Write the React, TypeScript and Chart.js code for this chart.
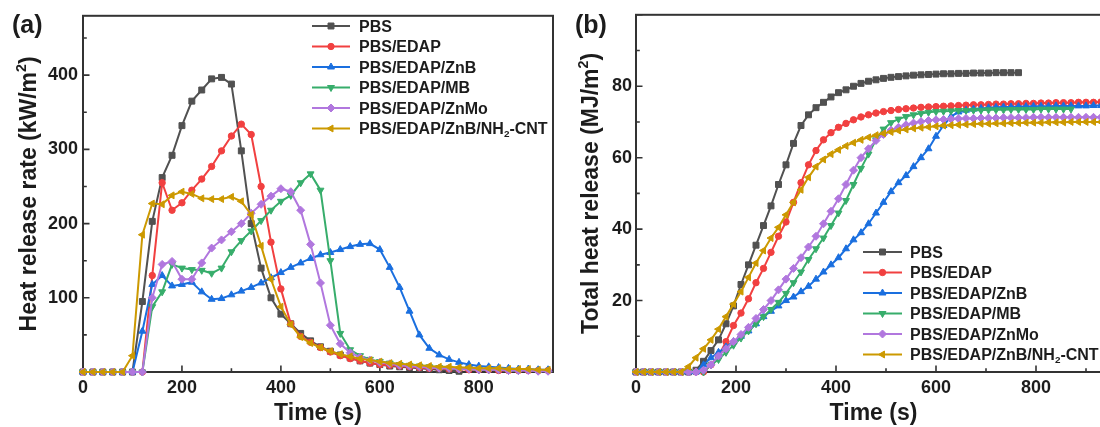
import React, { useEffect, useRef } from 'react';
import { Chart, registerables } from 'chart.js';
import { drawPoint } from 'chart.js/helpers';

Chart.register(...registerables);

const FONT = '"Liberation Sans", Arial, Helvetica, sans-serif';
const TEXT_COLOR = '#1c1c1c';
const AXIS_COLOR = '#333333';

// ---------- data ----------
const SERIES_LABELS = [
  'PBS',
  'PBS/EDAP',
  'PBS/EDAP/ZnB',
  'PBS/EDAP/MB',
  'PBS/EDAP/ZnMo',
  'PBS/EDAP/ZnB/NH₂-CNT',
];

// (a) heat release rate, kW/m², sampled every 20 s
const HRR_TIME = [0, 20, 40, 60, 80, 100, 120, 140, 160, 180, 200, 220, 240, 260, 280, 300, 320, 340, 360, 380, 400, 420, 440, 460, 480, 500, 520, 540, 560, 580, 600, 620, 640, 660, 680, 700, 720, 740, 760, 780, 800, 820, 840, 860, 880, 900, 920, 940];
const HRR_PBS = [0, 0, 0, 0, 0, 0, 95, 203, 262, 292, 332, 365, 380, 395, 397, 388, 298, 200, 140, 100, 78, 65, 52, 42, 34, 28, 23, 19, 15, 12, 10, 8, 7, 6, 5, 4, 3, 2, 1];
const HRR_EDAP = [0, 0, 0, 0, 0, 0, 0, 130, 255, 218, 228, 245, 260, 277, 298, 318, 334, 320, 250, 175, 112, 65, 48, 40, 33, 27, 22, 18, 15, 12, 10, 9, 8, 7, 6, 5, 5, 4, 4, 3, 3, 3, 2, 2, 2, 2, 2, 2];
const HRR_ZNB = [0, 0, 0, 0, 0, 0, 55, 118, 130, 116, 118, 121, 108, 98, 99, 104, 109, 114, 120, 127, 134, 141, 147, 153, 158, 161, 165, 169, 172, 173, 165, 141, 114, 82, 50, 32, 23, 17, 13, 10, 8, 7, 6, 5, 4, 4, 3, 3];
const HRR_MB = [0, 0, 0, 0, 0, 0, 0, 88, 108, 145, 140, 138, 137, 133, 140, 162, 177, 190, 204, 218, 230, 238, 255, 267, 245, 150, 52, 30, 22, 17, 14, 12, 10, 9, 8, 7, 6, 5, 4, 4, 3, 3, 3, 2, 2];
const HRR_ZNMO = [0, 0, 0, 0, 0, 0, 0, 100, 145, 149, 125, 125, 147, 167, 178, 189, 200, 214, 226, 237, 247, 243, 218, 172, 120, 63, 38, 26, 20, 16, 13, 11, 9, 8, 7, 6, 5, 5, 4, 4, 3, 3, 3, 2, 2, 2, 1, 1];
const HRR_CNT = [0, 0, 0, 0, 0, 22, 185, 227, 226, 238, 243, 240, 234, 233, 233, 236, 230, 212, 170, 125, 88, 64, 47, 39, 33, 28, 24, 21, 18, 16, 14, 12, 11, 10, 9, 8, 7, 7, 6, 6, 5, 5, 5, 4, 4, 4, 3, 3];

// (b) total heat release, MJ/m², sampled every 15 s
const THR_TIME = [0, 15, 30, 45, 60, 75, 90, 105, 120, 135, 150, 165, 180, 195, 210, 225, 240, 255, 270, 285, 300, 315, 330, 345, 360, 375, 390, 405, 420, 435, 450, 465, 480, 495, 510, 525, 540, 555, 570, 585, 600, 615, 630, 645, 660, 675, 690, 705, 720, 735, 750, 765, 780, 795, 810, 825, 840, 855, 870, 885, 900, 915, 930, 945];
const THR_PBS = [0, 0, 0, 0, 0, 0, 0, 0, 0.5, 3, 6, 9, 13.5, 18.5, 24.5, 30, 35.5, 41, 46.5, 52.5, 58, 64, 69, 72, 74, 75.5, 77, 78.2, 79, 80, 80.8, 81.4, 81.8, 82.2, 82.5, 82.7, 82.9, 83.1, 83.2, 83.3, 83.4, 83.5, 83.5, 83.6, 83.6, 83.7, 83.7, 83.7, 83.8, 83.8, 83.8, 83.8];
const THR_EDAP = [0, 0, 0, 0, 0, 0, 0, 0, 0, 0, 2, 4.5, 8.5, 13, 16.5, 20.5, 25, 29, 33.5, 38, 42, 47.5, 53, 58, 62, 65, 67, 68.5, 69.6, 70.6, 71.4, 72, 72.5, 72.9, 73.2, 73.5, 73.7, 73.9, 74.1, 74.2, 74.3, 74.4, 74.5, 74.6, 74.7, 74.8, 74.8, 74.9, 75, 75, 75.1, 75.1, 75.2, 75.2, 75.3, 75.3, 75.4, 75.4, 75.4, 75.5, 75.5, 75.5, 75.6, 75.6];
const THR_ZNB = [0, 0, 0, 0, 0, 0, 0, 0, 0, 2, 4, 5.5, 7, 8.5, 10, 11.5, 13.5, 15.5, 17, 18.5, 20, 21, 22.5, 24, 26, 28, 30, 32, 34.5, 37, 39, 41.5, 44.5, 47.5, 50.5, 53, 55, 57.5, 60, 62.5, 66, 69, 71.5, 72.8, 73.3, 73.6, 73.8, 74, 74.1, 74.2, 74.2, 74.3, 74.3, 74.4, 74.4, 74.4, 74.5, 74.5, 74.5, 74.5, 74.5, 74.6, 74.6, 74.6];
const THR_MB = [0, 0, 0, 0, 0, 0, 0, 0, 0, 0, 2, 3.5, 5.5, 7.5, 9.5, 11.5, 13.5, 15.5, 17.5, 19.5, 22, 25, 28, 31.5, 34.5, 37.5, 41, 44.5, 48, 52.5, 57, 61, 65, 68, 69.8, 70.8, 71.5, 72, 72.4, 72.7, 72.9, 73, 73.1, 73.2, 73.2, 73.3, 73.3, 73.4, 73.4, 73.4, 73.5, 73.5, 73.5, 73.5, 73.6, 73.6, 73.6, 73.6, 73.6];
const THR_ZNMO = [0, 0, 0, 0, 0, 0, 0, 0, 0, 0.5, 2, 4.5, 6.5, 8.5, 10.5, 12.5, 15, 17.5, 20, 23, 26, 29, 32, 35, 38, 41.5, 45, 48.5, 52.5, 56.5, 60, 62.5, 64.8, 66.5, 67.7, 68.5, 69.2, 69.7, 70.1, 70.4, 70.6, 70.7, 70.8, 70.9, 71, 71, 71.1, 71.1, 71.1, 71.2, 71.2, 71.2, 71.2, 71.3, 71.3, 71.3, 71.3, 71.3, 71.3, 71.3, 71.3, 71.3, 71.3, 71.3];
const THR_CNT = [0, 0, 0, 0, 0, 0, 0, 1.5, 4, 6.5, 9, 12, 15.5, 19, 22.5, 26.5, 30.5, 34, 37.5, 40.5, 44, 47.5, 51, 54.5, 57.5, 59.5, 61, 62.2, 63.3, 64.2, 65, 65.7, 66.3, 66.8, 67.2, 67.6, 67.9, 68.2, 68.4, 68.6, 68.8, 69, 69.1, 69.2, 69.3, 69.4, 69.5, 69.5, 69.6, 69.6, 69.7, 69.7, 69.8, 69.8, 69.8, 69.9, 69.9, 69.9, 70, 70, 70, 70, 70, 70];

// ---------- styles ----------
const STYLES = [
  { color: '#515151', pointStyle: 'rect', rotation: 0, radius: 4.2 },
  { color: '#F14040', pointStyle: 'circle', rotation: 0, radius: 3.2 },
  { color: '#1A6FDF', pointStyle: 'triangle', rotation: 0, radius: 4 },
  { color: '#37AD6B', pointStyle: 'triangle', rotation: 180, radius: 4 },
  { color: '#B177DE', pointStyle: 'rectRot', rotation: 0, radius: 4 },
  { color: '#CC9900', pointStyle: 'triangle', rotation: 270, radius: 4 },
];

type Part = { t: string; s?: 'sup' | 'sub' };

function parseRich(label: string): Part[] {
  const parts: Part[] = [];
  for (const ch of label) {
    if (ch === '²') parts.push({ t: '2', s: 'sup' });
    else if (ch === '₂') parts.push({ t: '2', s: 'sub' });
    else {
      const last = parts[parts.length - 1];
      if (last && !last.s) last.t += ch;
      else parts.push({ t: ch });
    }
  }
  return parts;
}

function partFont(p: Part, size: number) {
  const s = p.s ? size * 0.62 : size;
  return `bold ${s}px ${FONT}`;
}

function richWidth(ctx: CanvasRenderingContext2D, parts: Part[], size: number) {
  let w = 0;
  for (const p of parts) {
    ctx.font = partFont(p, size);
    w += ctx.measureText(p.t).width;
  }
  return w;
}

function drawRich(ctx: CanvasRenderingContext2D, parts: Part[], x: number, y: number, size: number, align: 'left' | 'center') {
  let cx = align === 'center' ? x - richWidth(ctx, parts, size) / 2 : x;
  ctx.textAlign = 'left';
  ctx.textBaseline = 'alphabetic';
  for (const p of parts) {
    ctx.font = partFont(p, size);
    let dy = 0;
    if (p.s === 'sup') dy = -size * 0.42;
    if (p.s === 'sub') dy = size * 0.2;
    ctx.fillText(p.t, cx, y + dy);
    cx += ctx.measureText(p.t).width;
  }
}

const framePlugin = {
  id: 'frameTicks',
  beforeDatasetsDraw(chart: any) {
    const { ctx, chartArea } = chart;
    const { left, right, top, bottom } = chartArea;
    const xs = chart.scales.x;
    const ys = chart.scales.y;
    ctx.save();
    ctx.strokeStyle = AXIS_COLOR;
    ctx.lineWidth = 2;
    ctx.strokeRect(left, top, right - left, bottom - top);
    ctx.lineWidth = 1.6;
    const drawTicks = (scale: any, horizontal: boolean) => {
      const vals = scale.ticks.map((t: any) => t.value);
      const step = vals.length > 1 ? vals[1] - vals[0] : 0;
      const list: [number, number][] = [];
      vals.forEach((v: number) => {
        list.push([v, 6.5]);
        const m = v + step / 2;
        if (step && m < scale.max) list.push([m, 3.8]);
      });
      ctx.beginPath();
      list.forEach(([v, len]) => {
        const p = scale.getPixelForValue(v);
        if (horizontal) {
          ctx.moveTo(p, bottom);
          ctx.lineTo(p, bottom - len);
        } else {
          ctx.moveTo(left, p);
          ctx.lineTo(left + len, p);
        }
      });
      ctx.stroke();
    };
    drawTicks(xs, true);
    drawTicks(ys, false);
    ctx.restore();
  },
};

function makeDeco(cfg: any) {
  return {
    id: 'deco',
    afterDraw(chart: any) {
      const ctx: CanvasRenderingContext2D = chart.ctx;
      const ca = chart.chartArea;
      ctx.save();
      ctx.fillStyle = TEXT_COLOR;
      // panel label
      ctx.font = `bold 25px ${FONT}`;
      ctx.textAlign = 'left';
      ctx.textBaseline = 'alphabetic';
      ctx.fillText(cfg.panelLabel, cfg.panelLabelX, cfg.panelLabelY);
      // x title
      drawRich(ctx, parseRich(cfg.xTitle), (ca.left + ca.right) / 2, cfg.xTitleY, 23, 'center');
      // y title
      ctx.save();
      ctx.translate(cfg.yTitleX, (ca.top + ca.bottom) / 2);
      ctx.rotate(-Math.PI / 2);
      drawRich(ctx, parseRich(cfg.yTitle), 0, 0, 23, 'center');
      ctx.restore();
      // legend
      chart.data.datasets.forEach((ds: any, i: number) => {
        const y = cfg.legendY0 + cfg.legendDy * i;
        ctx.strokeStyle = ds.borderColor;
        ctx.lineWidth = 2.2;
        ctx.beginPath();
        ctx.moveTo(cfg.legendX1, y);
        ctx.lineTo(cfg.legendX2, y);
        ctx.stroke();
        ctx.fillStyle = ds.borderColor;
        ctx.lineWidth = 1;
        drawPoint(ctx, { pointStyle: ds.pointStyle, rotation: ds.pointRotation, radius: ds.pointRadius, borderWidth: 1 } as any, (cfg.legendX1 + cfg.legendX2) / 2, y);
        ctx.fillStyle = TEXT_COLOR;
        drawRich(ctx, parseRich(ds.label), cfg.legendTextX, y + 16 * 0.36, 16, 'left');
      });
      ctx.restore();
    },
  };
}

function makeConfig(p: any) {
  const datasets = p.series.map((vals: number[], i: number) => {
    const st = STYLES[i];
    return {
      label: SERIES_LABELS[i],
      data: vals.map((v, j) => ({ x: p.times[j], y: v })),
      borderColor: st.color,
      backgroundColor: st.color,
      pointBackgroundColor: st.color,
      pointBorderColor: st.color,
      pointBorderWidth: 1,
      pointStyle: st.pointStyle,
      pointRotation: st.rotation,
      pointRadius: st.radius,
      borderWidth: 2,
      tension: 0,
      clip: false,
      order: 6 - i,
    };
  });
  const tickFont = { family: FONT, size: 18, weight: 'bold' as const };
  return {
    type: 'line' as const,
    data: { datasets },
    options: {
      animation: false as const,
      responsive: false,
      events: [],
      layout: { padding: { left: 0, right: p.padRight, top: 13, bottom: 0 } },
      plugins: { legend: { display: false }, tooltip: { enabled: false } },
      scales: {
        x: {
          type: 'linear' as const,
          min: 0,
          max: 950,
          afterFit: (s: any) => { s.height = 55; },
          grid: { display: false, drawTicks: false },
          border: { display: false },
          ticks: { stepSize: 200, includeBounds: false, autoSkip: false, maxRotation: 0, padding: 5, color: TEXT_COLOR, font: tickFont },
        },
        y: {
          type: 'linear' as const,
          min: 0,
          max: p.yMax,
          afterFit: (s: any) => { s.width = p.yAxisWidth; },
          grid: { display: false, drawTicks: false },
          border: { display: false },
          ticks: {
            stepSize: p.yStep,
            includeBounds: false,
            autoSkip: false,
            padding: p.yTickPad,
            color: TEXT_COLOR,
            font: tickFont,
            callback: (v: any) => (v === 0 || v >= p.yHideFrom ? '' : String(v)),
          },
        },
      },
    },
    plugins: [framePlugin, makeDeco(p.deco)],
  };
}

export default function App() {
  const refA = useRef<HTMLCanvasElement>(null);
  const refB = useRef<HTMLCanvasElement>(null);

  useEffect(() => {
    Chart.defaults.font.family = FONT;
    const a = new Chart(refA.current as HTMLCanvasElement, makeConfig({
      times: HRR_TIME,
      series: [HRR_PBS, HRR_EDAP, HRR_ZNB, HRR_MB, HRR_ZNMO, HRR_CNT],
      yMax: 480,
      yStep: 100,
      yHideFrom: 1000,
      yAxisWidth: 83,
      yTickPad: 5,
      padRight: 7,
      deco: {
        panelLabel: '(a)', panelLabelX: 12, panelLabelY: 33,
        xTitle: 'Time (s)', xTitleY: 420,
        yTitle: 'Heat release rate (kW/m²)', yTitleX: 36,
        legendX1: 312, legendX2: 350, legendTextX: 359, legendY0: 26, legendDy: 20.5,
      },
    }) as any);
    const b = new Chart(refB.current as HTMLCanvasElement, makeConfig({
      times: THR_TIME,
      series: [THR_PBS, THR_EDAP, THR_ZNB, THR_MB, THR_ZNMO, THR_CNT],
      yMax: 100,
      yStep: 20,
      yHideFrom: 100,
      yAxisWidth: 76,
      yTickPad: 4,
      padRight: 9,
      deco: {
        panelLabel: '(b)', panelLabelX: 15, panelLabelY: 33,
        xTitle: 'Time (s)', xTitleY: 420,
        yTitle: 'Total heat release (MJ/m²)', yTitleX: 38,
        legendX1: 303, legendX2: 342, legendTextX: 350, legendY0: 252, legendDy: 20.5,
      },
    }) as any);
    return () => { a.destroy(); b.destroy(); };
  }, []);

  return (
    <div style={{ position: 'fixed', left: 0, top: 0, width: 1100, height: 427, overflow: 'hidden', background: '#ffffff' }}>
      <canvas ref={refA} width={560} height={427} style={{ position: 'absolute', left: 0, top: 0, width: 560, height: 427 }} />
      <canvas ref={refB} width={560} height={427} style={{ position: 'absolute', left: 560, top: 0, width: 560, height: 427 }} />
    </div>
  );
}
